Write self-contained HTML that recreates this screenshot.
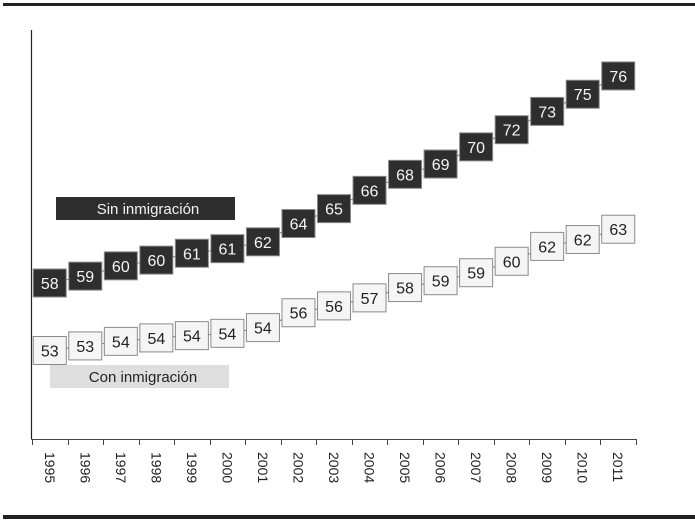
<!DOCTYPE html>
<html><head><meta charset="utf-8"><style>
html,body{margin:0;padding:0;background:#fff;}
svg{display:block;font-family:"Liberation Sans",sans-serif;}
</style></head><body>
<svg id="chart" width="695" height="521" viewBox="0 0 695 521">
<rect x="3" y="3" width="692" height="3" fill="#222"/>
<rect x="3" y="515" width="692" height="4" fill="#222"/>
<line x1="31.5" y1="30" x2="31.5" y2="439.5" stroke="#222" stroke-width="1.2"/>
<line x1="31.5" y1="439.5" x2="636.5" y2="439.5" stroke="#444" stroke-width="1"/>
<g id="ticks"></g>
<g id="xlabels"></g>
<g id="lines"></g>
<g id="dark"></g>
<g id="light"></g>
<g>
<rect x="56" y="197" width="179" height="23" fill="#2e2e2e"/>
<text x="148" y="214" text-anchor="middle" font-size="15" fill="#f2f2f2">Sin inmigración</text>
</g>
<g>
<rect x="50" y="365" width="179" height="23" fill="#dedede"/>
<text x="143" y="382" text-anchor="middle" font-size="15" fill="#222">Con inmigración</text>
</g>
</svg>
<script>
const years = ["1995","1996","1997","1998","1999","2000","2001","2002","2003","2004","2005","2006","2007","2008","2009","2010","2011"];
const sinValues = [58.0,58.6,59.5,60.0,60.6,61.0,61.6,63.2,64.5,66.1,67.5,68.4,69.9,71.4,73.0,74.5,76.1];
const sinLabels = ["58","59","60","60","61","61","62","64","65","66","68","69","70","72","73","75","76"];
const conValues = [52.1,52.5,52.9,53.2,53.4,53.6,54.1,55.4,56.0,56.7,57.6,58.2,58.9,59.9,61.2,61.8,62.7];
const conLabels = ["53","53","54","54","54","54","54","56","56","57","58","59","59","60","62","62","63"];

const NS = "http://www.w3.org/2000/svg";
const x0 = 32, x1 = 636, band = (x1 - x0) / years.length;
function xCenter(i){ return x0 + band * (i + 0.5); }
function yScale(v){ return 283 - (v - 58) * 11.44; }
function mk(tag, attrs, parent){
  const e = document.createElementNS(NS, tag);
  for (const k in attrs) e.setAttribute(k, attrs[k]);
  parent.appendChild(e); return e;
}
const ticks = document.getElementById('ticks');
for (let i = 0; i <= years.length; i++) {
  const x = Math.round(x0 + band * i) + 0.5;
  const t = mk('line', {x1:x, y1:439, x2:x, y2:445, stroke:'#444', 'stroke-width':1}, ticks);
  
  
}
const xl = document.getElementById('xlabels');
years.forEach((y, i) => {
  const cx = xCenter(i);
  const t = mk('text', {x:0, y:0, 'font-size':14, fill:'#222', 'dominant-baseline':'central',
    transform:`translate(${cx},452) rotate(90)`}, xl);
  t.textContent = y;
  
  
});
const lines = document.getElementById('lines');
function series(values, labels, gid, fill, tcol, name){
  const g = document.getElementById(gid);
  for (let i = 0; i < values.length - 1; i++) {
    const l = mk('line', {x1:xCenter(i), y1:yScale(values[i]), x2:xCenter(i+1), y2:yScale(values[i+1]), stroke:'#777', 'stroke-width':1}, lines);
    
    
  }
  values.forEach((v, i) => {
    const cx = xCenter(i), cy = yScale(v);
    const r = mk('rect', {x:cx-16.5, y:cy-14, width:33, height:28, fill:fill, stroke:'#8a8a8a', 'stroke-width':1}, g);
    
    
    const t = mk('text', {x:cx, y:cy+6, 'text-anchor':'middle', 'font-size':16, fill:tcol}, g);
    t.textContent = labels[i];
    
    
  });
}
series(sinValues, sinLabels, 'dark', '#2e2e2e', '#f4f4f4', 'sin');
series(conValues, conLabels, 'light', '#f5f5f5', '#222', 'con');
</script>
</body></html>
